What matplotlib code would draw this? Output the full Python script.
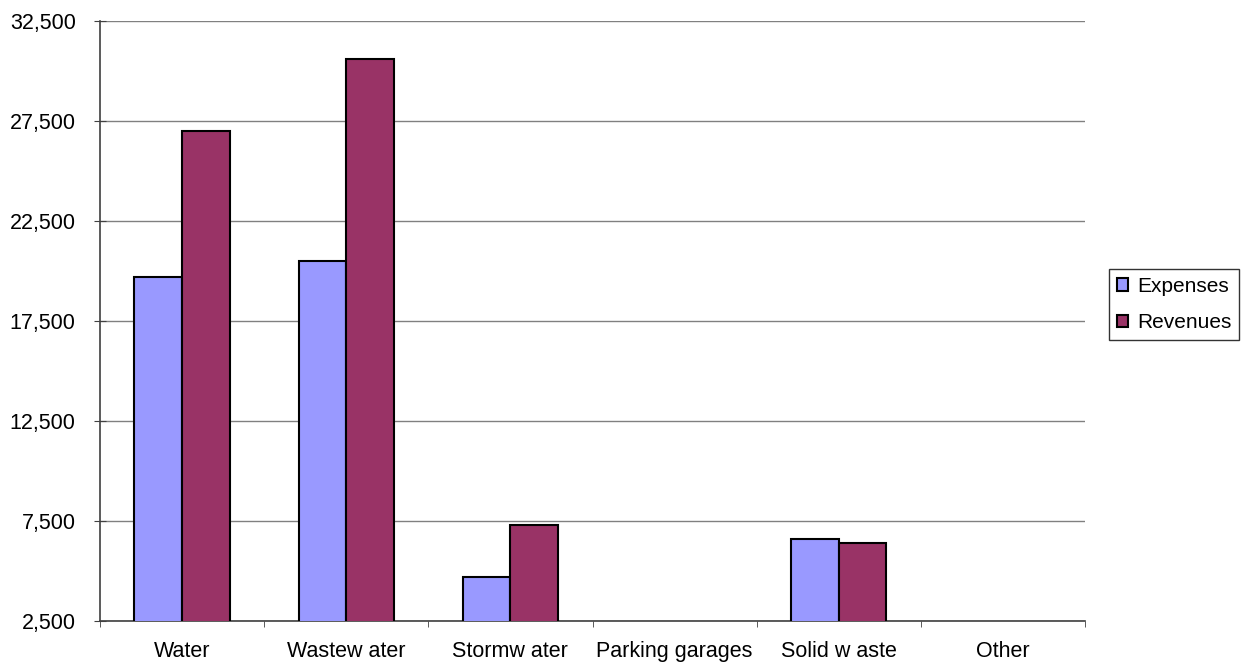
import numpy as np
import matplotlib.pyplot as plt

plt.rcParams['font.family'] = ['Liberation Sans', 'DejaVu Sans']

categories = ['Water', 'Wastew ater', 'Stormw ater', 'Parking garages', 'Solid w aste', 'Other']
expenses = [19700, 20500, 4700, 0, 6600, 0]
revenues = [27000, 30600, 7300, 0, 6400, 0]
y_ticks = [2500, 7500, 12500, 17500, 22500, 27500, 32500]

fig = plt.figure(figsize=(12.43, 6.62), dpi=100)
ax = fig.add_axes([100 / 1243, 1 - 620.5 / 662, 985 / 1243, 599.5 / 662])

x = np.arange(len(categories))
w = 0.29
ax.bar(x - w / 2, expenses, width=w, color='#9999FF', edgecolor='black', linewidth=1.5,
       label='Expenses', zorder=3)
ax.bar(x + w / 2, revenues, width=w, color='#993366', edgecolor='black', linewidth=1.5,
       label='Revenues', zorder=3)

ax.set_xlim(-0.5, len(categories) - 0.5)
ax.set_ylim(2500, 32500)
ax.set_yticks(y_ticks)
ax.set_yticklabels([f'{v:,}' for v in y_ticks], fontsize=15.5)
ax.set_xticks(x)
ax.set_xticklabels(categories, fontsize=15.5)
ax.set_xticks(np.arange(-0.5, len(categories)), minor=True)
ax.tick_params(axis='x', which='major', length=0, pad=14.5)
ax.tick_params(axis='x', which='minor', length=4.5, direction='out', color='#404040')
ax.tick_params(axis='y', length=8, direction='inout', color='#404040', pad=13.5)

ax.yaxis.grid(True, color='#808080', linewidth=1)
ax.set_axisbelow(True)
for s in ['top', 'right']:
    ax.spines[s].set_visible(False)
for s in ['left', 'bottom']:
    ax.spines[s].set_color('#404040')
    ax.spines[s].set_linewidth(1.2)

leg = fig.legend(loc='center right', bbox_to_anchor=(1239 / 1243, 1 - 304.5 / 662),
                 fontsize=15, frameon=True, fancybox=False, handlelength=0.55,
                 handleheight=0.55, handletextpad=0.45, borderpad=0.35, labelspacing=0.85,
                 borderaxespad=0)
leg.get_frame().set_edgecolor('black')
leg.get_frame().set_linewidth(1)

fig.savefig('out.png', dpi=100)
